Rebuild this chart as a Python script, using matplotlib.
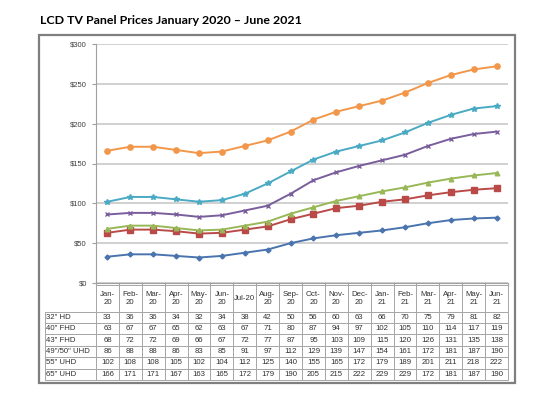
import numpy as np
import matplotlib.pyplot as plt
from matplotlib.patches import Rectangle

plt.rcParams['font.family'] = ['Liberation Sans', 'DejaVu Sans']

months = ['Jan-\n20', 'Feb-\n20', 'Mar-\n20', 'Apr-\n20', 'May-\n20', 'Jun-\n20',
          'Jul-20', 'Aug-\n20', 'Sep-\n20', 'Oct-\n20', 'Nov-\n20', 'Dec-\n20',
          'Jan-\n21', 'Feb-\n21', 'Mar-\n21', 'Apr-\n21', 'May-\n21', 'Jun-\n21']
names = ['32" HD', '40" FHD', '43" FHD', '49"/50" UHD', '55" UHD', '65" UHD']

hd32 = [33, 36, 36, 34, 32, 34, 38, 42, 50, 56, 60, 63, 66, 70, 75, 79, 81, 82]
fhd40 = [63, 67, 67, 65, 62, 63, 67, 71, 80, 87, 94, 97, 102, 105, 110, 114, 117, 119]
fhd43 = [68, 72, 72, 69, 66, 67, 72, 77, 87, 95, 103, 109, 115, 120, 126, 131, 135, 138]
uhd50 = [86, 88, 88, 86, 83, 85, 91, 97, 112, 129, 139, 147, 154, 161, 172, 181, 187, 190]
uhd55 = [102, 108, 108, 105, 102, 104, 112, 125, 140, 155, 165, 172, 179, 189, 201, 211, 219, 222]
uhd65 = [166, 171, 171, 167, 163, 165, 172, 179, 190, 205, 215, 222, 229, 239, 251, 261, 268, 272]

# the table in the source shows different numbers than the plotted lines
uhd55_table = [102, 108, 108, 105, 102, 104, 112, 125, 140, 155, 165, 172, 179, 189, 201, 211, 218, 222]
uhd65_table = [166, 171, 171, 167, 163, 165, 172, 179, 190, 205, 215, 222, 229, 229, 172, 181, 187, 190]

series = [hd32, fhd40, fhd43, uhd50, uhd55, uhd65]
table_rows = [hd32, fhd40, fhd43, uhd50, uhd55_table, uhd65_table]
colors = ['#4A74AE', '#B94A48', '#98B857', '#7A5E9C', '#4AAAC4', '#F2974A']
markers = ['D', 's', '^', 'x', '*', 'o']
msizes = [2.5, 3.8, 3.3, 3.5, 4, 3.8]

W, H = 550, 396
fig = plt.figure(figsize=(W / 100, H / 100), dpi=100)

fig.text(40 / W, 1 - 20 / H, 'LCD TV Panel Prices January 2020 \u2013 June 2021',
         fontsize=8.9, fontweight='bold', family=['Lato', 'DejaVu Sans'],
         va='center', ha='left')

# outer chart frame
fig.patches.append(Rectangle((39 / W, 1 - 383 / H), (515 - 39) / W, (383 - 35) / H,
                             transform=fig.transFigure, fill=False,
                             edgecolor='#7F7F7F', linewidth=1.6))

ax = fig.add_axes([96 / W, 1 - 283 / H, (508 - 96) / W, (283 - 44) / H])
x = np.arange(len(months))
for vals, c, m, ms in zip(series, colors, markers, msizes):
    ax.plot(x, vals, color=c, marker=m, markersize=ms, linewidth=1.4,
            markeredgewidth=1.0)

ax.set_xlim(-0.5, len(months) - 0.5)
ax.set_ylim(0, 300)
ax.set_yticks(range(0, 301, 50))
ax.set_yticklabels(['$%d' % v for v in range(0, 301, 50)], fontsize=5.5, color='#404040')
ax.yaxis.grid(True, color='#C8C8C8', linewidth=1.2)
ax.set_axisbelow(True)
ax.set_xticks(np.arange(-0.5, len(months), 1))
ax.set_xticklabels([])
ax.tick_params(axis='both', length=3, color='#A0A0A0', width=0.8)
for s in ['top', 'right']:
    ax.spines[s].set_visible(False)
for s in ['left', 'bottom']:
    ax.spines[s].set_color('#A0A0A0')
    ax.spines[s].set_linewidth(0.8)

# data table under the plot
tax = fig.add_axes([45 / W, 1 - 380 / H, (508 - 45) / W, (380 - 285) / H])
tax.axis('off')
cells = [[''] + months] + [[n] + [str(v) for v in row] for n, row in zip(names, table_rows)]
col_w = [51] + [(508 - 96) / len(months)] * len(months)
tbl = tax.table(cellText=cells, colWidths=col_w, bbox=[0, 0, 1, 1], cellLoc='center')
tbl.auto_set_font_size(False)
for (r, c), cell in tbl.get_celld().items():
    cell.set_edgecolor('#A6A6A6')
    cell.set_linewidth(0.7)
    cell.get_text().set_fontsize(5.6)
    cell.get_text().set_color('#303030')
    cell.set_height(27 if r == 0 else 11.5)
    if c == 0:
        cell.get_text().set_ha('left')
        cell._loc = 'left'
        cell.PAD = 0.02
    if r == 0 and c == 0:
        cell.visible_edges = ''

fig.savefig('out.png', dpi=100)
